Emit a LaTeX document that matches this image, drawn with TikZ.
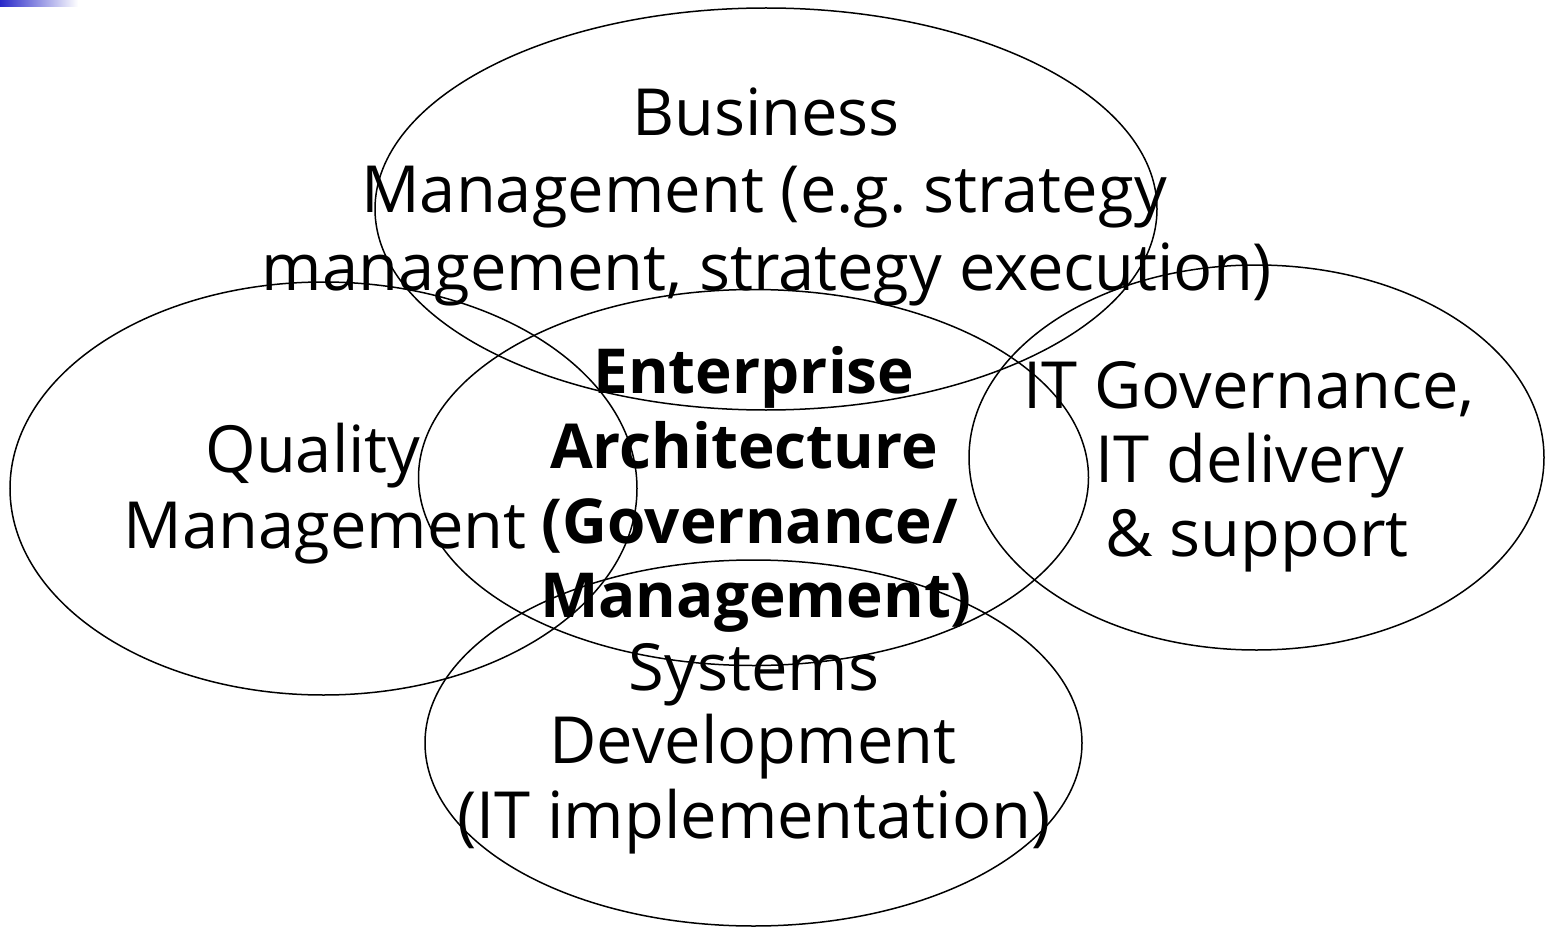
\documentclass[tikz,border=0pt]{standalone}
\usepackage{fontspec}
\setmainfont{Open Sans}
\frenchspacing
\usetikzlibrary{shapes.geometric}
\tikzset{
  ring/.style={draw=black, line width=1.5pt, ellipse, inner sep=0pt},
  txt/.style={anchor=base, inner sep=0pt, font=\fontsize{65}{75}\selectfont},
  btxt/.style={anchor=base, inner sep=0pt, font=\fontsize{62}{75}\selectfont\bfseries}
}
\begin{document}
\begin{tikzpicture}[x=1pt,y=-1pt]
\useasboundingbox (0,0) rectangle (1545,928);
\shade[left color={rgb,255:red,40;green,40;blue,200}, right color=white] (0,0) rectangle (78,7);
% ellipses
\node[ring, minimum width=782pt, minimum height=402pt] (bus) at (766,209) {};
\node[ring, minimum width=627pt, minimum height=413pt] (qual) at (323.5,488.5) {};
\node[ring, minimum width=670pt, minimum height=376pt] (ea) at (753.5,477.5) {};
\node[ring, minimum width=575pt, minimum height=385pt] (itg) at (1256.5,457.5) {};
\node[ring, minimum width=657pt, minimum height=366pt] (sys) at (753.5,743) {};
% business text
\node[txt] (b1) at (766,136) {Business};
\node[txt] (b2) at (764,213) {Management (e.g. strategy};
\node[txt] (b3) at (767,290) {management, strategy execution)};
% quality
\node[txt] (q1) at (313,472) {Quality};
\node[txt] (q2) at (325,548) {Management};
% IT
\node[txt] (i1) at (1249,408) {IT Governance,};
\node[txt] (i2) at (1250,482) {IT delivery};
\node[txt] (i3) at (1257,556) {\& support};
% EA
\node[btxt] (e1) at (754,393) {Enterprise};
\node[btxt] (e2) at (744,468) {Architecture};
\node[btxt] (e3) at (750,543) {(Governance/};
\node[btxt] (e4) at (756,617) {Management)};
% systems
\node[txt] (s1) at (754,690) {Systems};
\node[txt] (s2) at (753,763) {Development};
\node[txt] (s3) at (754,838) {(IT implementation)};
\end{tikzpicture}
\end{document}
